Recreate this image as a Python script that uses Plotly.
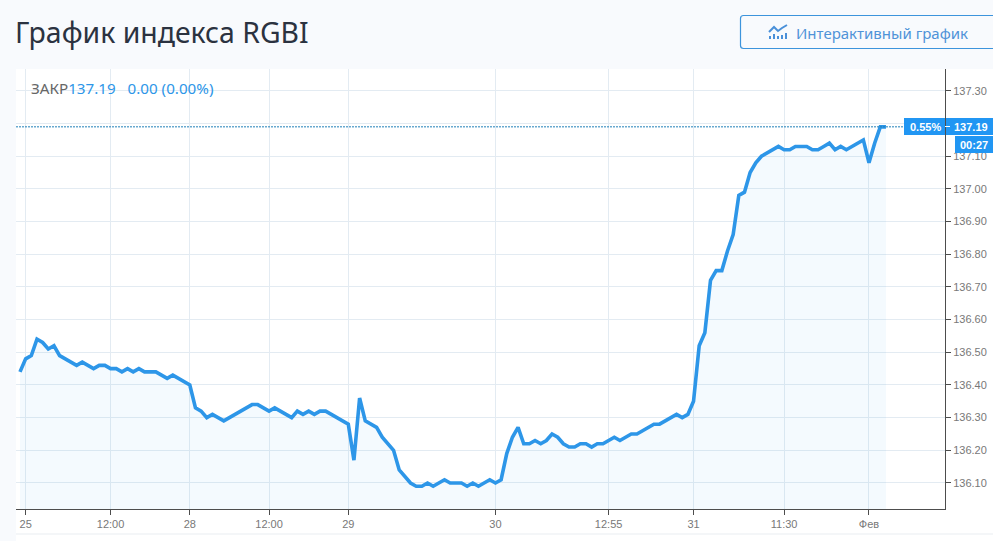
import plotly.graph_objects as go

close_values = [
    136.44,136.48,136.49,136.54,136.53,136.51,136.52,136.49,136.48,136.47,
    136.46,136.47,136.46,136.45,136.46,136.46,136.45,136.45,136.44,136.45,
    136.44,136.45,136.44,136.44,136.44,136.43,136.42,136.43,136.42,136.41,
    136.40,136.33,136.32,136.30,136.31,136.30,136.29,136.30,136.31,136.32,
    136.33,136.34,136.34,136.33,136.32,136.33,136.32,136.31,136.30,136.32,
    136.31,136.32,136.31,136.32,136.32,136.31,136.30,136.29,136.28,136.17,
    136.36,136.29,136.28,136.27,136.24,136.22,136.20,136.14,136.12,136.10,
    136.09,136.09,136.10,136.09,136.10,136.11,136.10,136.10,136.10,136.09,
    136.10,136.09,136.10,136.11,136.10,136.11,136.19,136.24,136.27,136.22,
    136.22,136.23,136.22,136.23,136.25,136.24,136.22,136.21,136.21,136.22,
    136.22,136.21,136.22,136.22,136.23,136.24,136.23,136.24,136.25,136.25,
    136.26,136.27,136.28,136.28,136.29,136.30,136.31,136.30,136.31,136.35,
    136.52,136.56,136.72,136.75,136.75,136.81,136.86,136.98,136.99,137.05,
    137.08,137.10,137.11,137.12,137.13,137.12,137.12,137.13,137.13,137.13,
    137.12,137.12,137.13,137.14,137.12,137.13,137.12,137.13,137.14,137.15,
    137.08,137.14,137.19,137.19,
]
bar_index = list(range(len(close_values)))
x_tick_index = [1, 16, 30, 44, 58, 84, 104, 119, 135, 150]
x_tick_labels = ["25", "12:00", "28", "12:00", "29", "30", "12:55", "31", "11:30", "Фев"]
y_ticks = [136.10, 136.20, 136.30, 136.40, 136.50, 136.60, 136.70, 136.80,
           136.90, 137.00, 137.10, 137.20, 137.30]
y_tick_labels = [f"{v:.2f}" if abs(v - 137.20) > 1e-6 else "" for v in y_ticks]
last_close = close_values[-1]

W, H = 993, 541
L, R, T, B = 16, 945, 69, 509
BLUE = "#2d96e8"
AXIS = "#4d4d4d"
GRID = "#e3ebf2"
TXT = "#787878"


def px(x):
    return (x - L) / (R - L)


def py(y):
    return (B - y) / (B - T)


def rect(x0, y0, x1, y1, color, layer="above"):
    return dict(type="rect", xref="paper", yref="paper", x0=px(x0), x1=px(x1), y0=py(y0), y1=py(y1),
                fillcolor=color, line_width=0, layer=layer)


def seg(x0, y0, x1, y1, color, width=1):
    return dict(type="line", xref="paper", yref="paper", x0=px(x0), x1=px(x1), y0=py(y0), y1=py(y1),
                line=dict(color=color, width=width), layer="above")


def label(x, y, text, size, color, anchor="left", family="Noto Sans", bold=False):
    if bold:
        text = f"<b>{text}</b>"
    return dict(xref="paper", yref="paper", x=px(x), y=py(y), text=text, showarrow=False,
                xanchor=anchor, yanchor="middle", borderpad=0, borderwidth=0,
                font=dict(size=size, color=color, family=family))


fig = go.Figure(go.Scatter(
    x=bar_index, y=close_values, mode="lines",
    line=dict(color=BLUE, width=3.6),
    fill="tozeroy", fillcolor="rgba(45,150,232,0.05)",
    hoverinfo="skip",
))

shapes = [
    # chart panel
    rect(16, 69, 1000, 545, "#ffffff", "below"),
    seg(16, 534, 1000, 534, "#e9edf1"),
    # last-price line
    dict(type="line", xref="paper", yref="y", x0=0, x1=1, y0=last_close, y1=last_close,
         line=dict(color="#1f7fb8", width=1, dash="2px,1px"), layer="above"),
    # price badges
    rect(904, 118, 945, 135, "#2196f3"),
    rect(946, 118, 993, 135, "#2196f3"),
    rect(955, 136, 993, 153, "#2196f3"),
    seg(945, 126.5, 950, 126.5, "#ffffff"),
    # button
    dict(type="path", xref="paper", yref="paper",
         path=(f"M {px(1003)} {py(15.5)} L {px(743.5)} {py(15.5)} "
               f"Q {px(740.5)} {py(15.5)} {px(740.5)} {py(18.5)} "
               f"L {px(740.5)} {py(45.5)} Q {px(740.5)} {py(48.5)} {px(743.5)} {py(48.5)} "
               f"L {px(1003)} {py(48.5)}"),
         line=dict(color="#3d94dc", width=1.2), layer="above"),
    # button icon
    dict(type="path", xref="paper", yref="paper",
         path=(f"M {px(769)} {py(32)} L {px(774)} {py(27)} L {px(778)} {py(31)} "
               f"L {px(782)} {py(28)} L {px(787)} {py(25)}"),
         line=dict(color="#4a90d9", width=2), layer="above"),
    rect(769, 36, 771, 39, "#4a90d9"),
    rect(773, 34, 775, 39, "#4a90d9"),
    rect(777, 36, 779, 39, "#4a90d9"),
    rect(781, 35, 783, 39, "#4a90d9"),
    rect(785, 33, 787, 39, "#4a90d9"),
]

annotations = [
    label(15, 32, "График индекса RGBI", 28.4, "#2b3240"),
    label(796, 33, "Интерактивный график", 15, "#4f93d8"),
    label(31, 88, f"ЗАКР<span style='color:{BLUE}'>{last_close:.2f}\u00a0\u00a0\u00a00.00 (0.00%)</span>", 15.2, "#666666"),
    label(941, 126.5, "0.55%", 11, "#ffffff", "right", "Liberation Sans", True),
    label(988, 126.5, f"{last_close:.2f}", 11, "#ffffff", "right", "Liberation Sans", True),
    label(988, 144.5, "00:27", 11, "#ffffff", "right", "Liberation Sans", True),
]

fig.update_layout(
    width=W, height=H, showlegend=False,
    margin=dict(l=L, r=W - R, t=T, b=H - B, pad=0, autoexpand=False),
    paper_bgcolor="#f8fafd", plot_bgcolor="rgba(0,0,0,0)",
    shapes=shapes, annotations=annotations,
    xaxis=dict(range=[-0.707, 163.43], tickmode="array", tickvals=x_tick_index, ticktext=x_tick_labels,
               showgrid=True, gridcolor=GRID, gridwidth=1, zeroline=False,
               showline=True, linecolor=AXIS, linewidth=1,
               ticks="outside", ticklen=5, tickcolor=AXIS,
               tickfont=dict(family="Liberation Sans", size=11, color=TXT), tickangle=0),
    yaxis=dict(range=[136.0204, 137.367], side="right", tickmode="array", tickvals=y_ticks,
               ticktext=y_tick_labels, showgrid=True, gridcolor=GRID, gridwidth=1, zeroline=False,
               showline=True, linecolor=AXIS, linewidth=1,
               ticks="outside", ticklen=5, tickcolor=AXIS,
               tickfont=dict(family="Liberation Sans", size=11, color=TXT)),
)

fig.write_html("out.html", config=dict(displayModeBar=False),
               post_script=("document.body.style.margin='0';document.body.style.overflow='hidden';"
                            "document.body.style.background='#f8fafd';"
                            "document.querySelectorAll('.scatterlayer path.js-line').forEach("
                            "function(p){p.style.strokeLinejoin='miter';});"))
